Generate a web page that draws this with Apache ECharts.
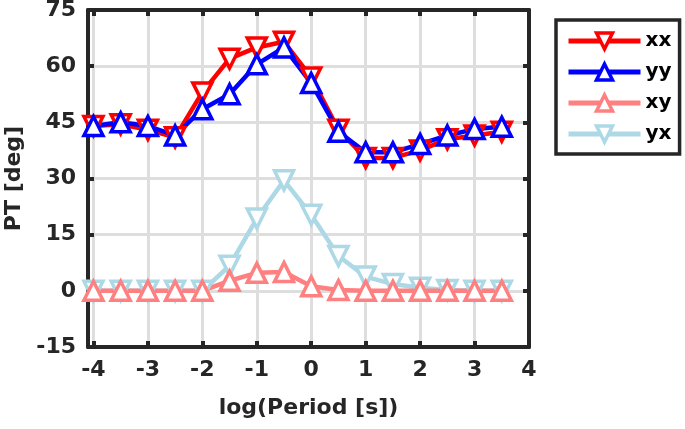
<!DOCTYPE html>
<html><head><meta charset="utf-8">
<script src="https://cdn.jsdelivr.net/npm/echarts@6/dist/echarts.min.js"></script>
<style>html,body{margin:0;padding:0;background:#fff}#c{width:685px;height:429px}</style>
</head><body><div id="c"></div>
<script>
const periods = [-4, -3.5, -3, -2.5, -2, -1.5, -1, -0.5, 0, 0.5, 1, 1.5, 2, 2.5, 3, 3.5];
const xx = [44, 44.5, 43, 41, 53, 62, 65, 66.5, 57, 43, 35.5, 35.5, 37.5, 40.5, 41.5, 42.5];
const yy = [44, 45, 44, 41.5, 48.5, 52.5, 60.5, 65, 55.5, 42.5, 37, 37, 39.2, 41.5, 43.2, 43.8];
const xy = [0, 0, 0, 0, 0, 2.7, 4.8, 5, 1.2, 0.2, 0, 0, 0, 0, 0, 0];
const yx = [0, 0, 0, 0, 0, 6.7, 19.3, 29.5, 20.3, 9.3, 3.8, 1.8, 0.8, 0.2, 0, 0];
const xTicks = [-4, -3, -2, -1, 0, 1, 2, 3, 4];
const seriesNames = ['xx', 'yy', 'xy', 'yx'];

const dark = '#262626';
const font = 'DejaVu Sans, Arial, sans-serif';
const pair = arr => periods.map((p, i) => [p, arr[i]]);

function mk(name, data, color, down) {
  return {
    name, type: 'line', data: pair(data), xAxisIndex: 0, yAxisIndex: 0,
    symbol: 'triangle', symbolSize: 19, symbolRotate: down ? 180 : 0,
    lineStyle: { color, width: 4.5 },
    itemStyle: { color: '#fff', borderColor: color, borderWidth: 3.5 },
    emphasis: { disabled: true }, z: 3
  };
}
const axisLineStyle = { color: dark, width: 4 };
const tickStyle = { color: dark, width: 4 };
const chart = echarts.init(document.getElementById('c'), null, { renderer: 'canvas' });
chart.setOption({
  animation: false,
  backgroundColor: '#fff',
  grid: { left: 88, right: 156, top: 10, bottom: 82, outerBoundsMode: 'none', containLabel: false },
  legend: {
    left: 556, top: 20, width: 126, height: 143,
    orient: 'vertical', padding: [11, 8, 10, 10], itemGap: 11,
    itemWidth: 72, itemHeight: 20,
    backgroundColor: '#fff', borderColor: dark, borderWidth: 3.5,
    lineStyle: { width: 5 },
    itemStyle: { borderWidth: 3.5 },
    textStyle: { fontFamily: font, fontWeight: 'bold', fontSize: 20, color: '#000' },
    data: seriesNames
  },
  xAxis: [{
    type: 'value', min: -4.1, max: 4, splitNumber: 8,
    axisLine: { onZero: false, lineStyle: axisLineStyle },
    axisTick: { inside: true, length: 6, lineStyle: tickStyle, customValues: xTicks },
    axisLabel: { customValues: xTicks, margin: 12, color: dark, fontFamily: font, fontWeight: 'bold', fontSize: 22 },
    splitLine: { show: true, lineStyle: { color: '#dedede', width: 3 } },
    name: 'log(Period [s])', nameLocation: 'middle', nameGap: 50,
    nameTextStyle: { color: dark, fontFamily: font, fontWeight: 'bold', fontSize: 22 }
  }, {
    type: 'value', min: -4.1, max: 4, position: 'top',
    axisLine: { show: true, onZero: false, lineStyle: axisLineStyle },
    axisTick: { show: true, inside: true, length: 6, lineStyle: tickStyle, customValues: xTicks },
    axisLabel: { show: false }, splitLine: { show: false }
  }],
  yAxis: [{
    type: 'value', min: -15, max: 75, interval: 15,
    axisLine: { show: true, onZero: false, lineStyle: axisLineStyle },
    axisTick: { show: true, inside: true, length: 6, lineStyle: tickStyle },
    axisLabel: { margin: 12, color: dark, fontFamily: font, fontWeight: 'bold', fontSize: 22 },
    splitLine: { show: true, lineStyle: { color: '#dedede', width: 3 } },
    name: 'PT [deg]', nameLocation: 'middle', nameGap: 63,
    nameTextStyle: { color: dark, fontFamily: font, fontWeight: 'bold', fontSize: 22 }
  }, {
    type: 'value', min: -15, max: 75, interval: 15, position: 'right',
    axisLine: { show: true, onZero: false, lineStyle: axisLineStyle },
    axisTick: { show: true, inside: true, length: 6, lineStyle: tickStyle },
    axisLabel: { show: false }, splitLine: { show: false }
  }],
  series: [
    mk('yx', yx, '#add8e6', true),
    mk('xy', xy, '#ff8080', false),
    mk('xx', xx, '#ff0000', true),
    mk('yy', yy, '#0000ff', false)
  ]
});
</script></body></html>
